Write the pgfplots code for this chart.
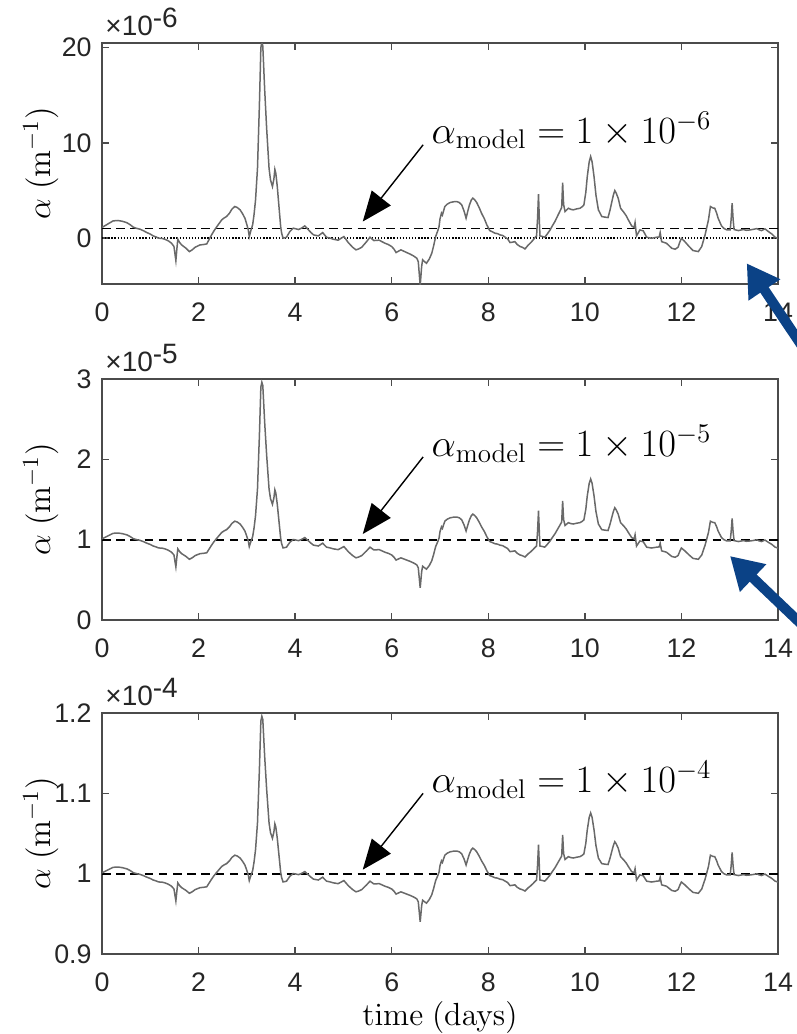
\RequirePackage{fix-cm}
\documentclass[border=0pt]{standalone}
\usepackage[no-math]{fontspec}
\setmainfont{Liberation Sans}
\usepackage{pgfplots}
\pgfplotsset{compat=1.18}
\usepackage{pgfplotstable}
\usetikzlibrary{arrows.meta}

\definecolor{axgray}{RGB}{75,75,75}
\definecolor{ticktxt}{RGB}{38,38,38}
\definecolor{linegray}{RGB}{105,105,105}
\definecolor{darrow}{RGB}{11,66,134}

% alpha - alpha_model + 1, in units of 1e-6 (same deviation in all panels)
\pgfplotstableread{
t v
0.00 1.10
0.10 1.40
0.23 1.79
0.33 1.83
0.42 1.75
0.51 1.61
0.58 1.40
0.65 1.12
0.72 1.00
0.79 0.91
0.86 0.75
0.93 0.56
1.00 0.40
1.06 0.21
1.12 0.10
1.17 -0.03
1.24 -0.05
1.30 -0.14
1.37 -0.30
1.44 -0.56
1.49 -0.90
1.53 -2.39
1.55 -1.20
1.57 -0.14
1.61 -0.50
1.65 -0.74
1.74 -1.09
1.81 -1.44
1.87 -1.25
1.93 -0.98
2.03 -0.74
2.10 -0.70
2.17 -0.63
2.22 -0.15
2.27 0.32
2.32 0.75
2.37 1.12
2.43 1.55
2.48 1.90
2.53 2.10
2.58 2.25
2.64 2.60
2.69 3.02
2.75 3.30
2.80 3.20
2.86 2.95
2.91 2.55
2.96 2.07
3.00 1.40
3.03 0.84
3.05 0.14
3.09 0.90
3.12 1.37
3.15 2.50
3.18 4.00
3.22 7.30
3.26 14.0
3.29 20.0
3.31 20.6
3.33 20.2
3.37 15.5
3.41 11.5
3.46 7.30
3.49 6.10
3.53 5.40
3.56 6.20
3.58 7.20
3.60 6.80
3.63 5.40
3.67 3.00
3.70 1.20
3.72 0.50
3.75 -0.03
3.82 0.06
3.89 0.67
3.96 1.02
4.02 0.95
4.07 0.88
4.14 1.05
4.20 1.26
4.27 0.88
4.33 0.55
4.38 0.32
4.48 0.21
4.57 0.56
4.65 0.07
4.72 -0.02
4.79 -0.14
4.89 -0.24
4.95 -0.05
5.01 0.14
5.10 -0.49
5.19 -0.98
5.26 -1.26
5.32 -1.15
5.38 -0.98
5.48 -0.39
5.55 0.07
5.63 -0.28
5.74 -0.24
5.80 -0.40
5.86 -0.56
5.93 -0.70
6.00 -0.91
6.05 -1.20
6.09 -1.54
6.19 -1.26
6.25 -1.40
6.31 -1.54
6.38 -1.70
6.45 -1.89
6.52 -2.14
6.55 -2.50
6.59 -5.00
6.62 -3.00
6.64 -2.30
6.68 -2.50
6.72 -2.67
6.78 -2.20
6.83 -1.61
6.87 -0.80
6.91 0.14
6.95 0.70
6.98 1.19
7.00 2.00
7.03 2.60
7.05 2.40
7.07 2.77
7.10 3.30
7.15 3.55
7.21 3.72
7.28 3.80
7.35 3.82
7.40 3.72
7.45 3.47
7.50 2.80
7.54 2.07
7.58 2.90
7.61 3.47
7.65 4.00
7.68 4.18
7.72 4.00
7.76 3.72
7.81 3.20
7.86 2.60
7.92 2.00
7.97 1.37
8.03 0.77
8.08 0.65
8.14 0.49
8.19 0.45
8.24 0.32
8.30 0.25
8.35 0.07
8.40 -0.10
8.45 -0.49
8.50 -0.45
8.55 -0.39
8.60 -0.70
8.66 -0.91
8.71 -1.00
8.76 -1.16
8.83 -0.74
8.88 -0.50
8.93 -0.21
8.97 0.05
9.00 0.21
9.02 2.00
9.04 4.60
9.06 1.50
9.07 0.21
9.12 0.15
9.17 0.07
9.22 0.40
9.28 0.84
9.33 1.30
9.38 1.72
9.43 2.25
9.48 2.77
9.52 3.20
9.54 5.82
9.56 3.50
9.59 2.77
9.66 3.12
9.71 3.00
9.76 2.95
9.83 3.05
9.90 3.12
9.95 3.30
9.98 3.47
10.02 4.80
10.05 6.45
10.09 8.00
10.12 8.56
10.15 8.00
10.19 6.45
10.23 4.50
10.28 2.95
10.35 2.25
10.42 2.18
10.48 2.14
10.52 2.90
10.56 3.82
10.59 4.50
10.62 4.98
10.65 4.70
10.69 4.18
10.74 3.12
10.81 2.67
10.86 2.30
10.90 1.90
10.97 1.26
11.02 1.10
11.04 1.61
11.07 0.21
11.14 0.84
11.21 0.74
11.28 0.07
11.38 -0.04
11.49 0.07
11.54 0.10
11.56 0.56
11.59 -0.39
11.69 -0.56
11.80 -1.09
11.87 -1.19
11.93 -0.98
11.97 -0.40
12.00 -0.04
12.07 -0.39
12.16 -0.91
12.24 -1.33
12.35 -1.44
12.42 -0.91
12.49 0.32
12.56 1.90
12.60 3.30
12.65 3.15
12.69 3.12
12.73 2.60
12.76 2.07
12.83 1.26
12.88 1.00
12.94 0.84
13.01 0.84
13.03 2.00
13.05 3.65
13.07 2.00
13.09 0.88
13.18 0.77
13.28 0.88
13.35 0.80
13.42 0.84
13.49 0.90
13.56 0.98
13.61 0.85
13.66 0.77
13.73 0.95
13.80 0.67
13.87 0.42
13.94 0.07
14.00 -0.05
}\alphadata

\pgfplotsset{
  panel/.style={
    scale only axis, width=338pt, height=120.5pt,
    anchor=north west,
    xmin=0, xmax=14, xtick={0,2,...,14},
    axis line style={axgray, line width=0.7pt},
    every tick/.style={axgray, line width=0.7pt},
    major tick length=3.5pt, tick align=inside,
    xtick pos=both, ytick pos=both, minor tick num=0,
    /pgf/number format/assume math mode=true,
    tick label style={font=\fontsize{13.4}{15}\selectfont, text=ticktxt},
    xticklabel style={anchor=base, inner sep=0pt, yshift=-18.6pt},
    yticklabel style={anchor=east, inner sep=0pt, xshift=-5pt},
    every axis y label/.style={at={(axis description cs:-0.0769,0.5)},
      rotate=90, anchor=base, font=\fontsize{16.5}{18}\selectfont},
    ylabel={$\alpha\ (\mathrm{m}^{-1})$},
  },
  sig/.style={linegray, line width=0.75pt},
  model/.style={black, line width=0.85pt, dash pattern=on 4.3pt off 2.8pt},
}
\tikzset{
  note/.style={anchor=base west, inner sep=0pt, font=\fontsize{19.3}{21}\selectfont},
  pointer/.style={black, line width=0.7pt, -{Triangle[length=15pt,width=12pt]}},
}

\newcommand{\expolabel}[2]{%
  \node[anchor=base west, inner sep=0pt, text=ticktxt,
    font=\fontsize{14}{16}\selectfont] at (#1) {×10\raisebox{4pt}{#2}};}

\begin{document}
\begin{tikzpicture}

% panel 1: alpha_model = 1e-6
\begin{axis}[panel, at={(51pt,-21.5pt)}, ymin=-4.85, ymax=20.5, ytick={0,10,20}]
  \addplot[black, line width=0.65pt, dash pattern=on 0.65pt off 0.9pt] coordinates {(0,0) (14,0)};
  \addplot[model] coordinates {(0,1) (14,1)};
  \addplot[sig] table[x=t, y=v] {\alphadata};
  \node[note] at (axis cs:6.82,9.97) {$\alpha_{\mathrm{model}} = 1\times 10^{-6}$};
  \draw[pointer] (axis cs:6.65,9.79) -- (axis cs:5.40,1.72);
\end{axis}

% panel 2: alpha_model = 1e-5
\begin{axis}[panel, at={(51pt,-189.5pt)}, ymin=0, ymax=3, ytick={0,1,2,3}]
  \addplot[model] coordinates {(0,1) (14,1)};
  \addplot[sig] table[x=t, y expr=0.9+\thisrow{v}/10] {\alphadata};
  \node[note] at (axis cs:6.82,2.035) {$\alpha_{\mathrm{model}} = 1\times 10^{-5}$};
  \draw[pointer] (axis cs:6.65,2.03) -- (axis cs:5.40,1.07);
\end{axis}

% panel 3: alpha_model = 1e-4
\begin{axis}[panel, at={(51pt,-356.5pt)}, ymin=0.9, ymax=1.2, ytick={0.9,1,1.1,1.2},
    every axis x label/.style={at={(axis description cs:0.5,-0.295)}, anchor=base,
      font=\fontsize{16}{18}\selectfont},
    xlabel={$\mathrm{time\ (days)}$}]
  \addplot[model] coordinates {(0,1) (14,1)};
  \addplot[sig] table[x=t, y expr=0.99+\thisrow{v}/100] {\alphadata};
  \node[note] at (axis cs:6.82,1.101) {$\alpha_{\mathrm{model}} = 1\times 10^{-4}$};
  \draw[pointer] (axis cs:6.65,1.10) -- (axis cs:5.40,1.005);
\end{axis}

\expolabel{52.5pt,-17.5pt}{-6}
\expolabel{52.5pt,-185.5pt}{-5}
\expolabel{52.5pt,-352.5pt}{-4}

% blue arrows coming in from the cropped right edge
\begin{scope}
  \clip (0,0) rectangle (398.5pt,-517pt);
  \draw[darrow, line width=5pt, -{Triangle[length=16pt,width=18pt]}]
    (415pt,-194pt) -- (373.35pt,-131.65pt);
  \draw[darrow, line width=5pt, -{Triangle[length=16pt,width=18pt]}]
    (420pt,-330.5pt) -- (365pt,-278pt);
\end{scope}

\pgfresetboundingbox
\path[use as bounding box] (0,0) rectangle (398.5pt,-517pt);
\end{tikzpicture}
\end{document}
